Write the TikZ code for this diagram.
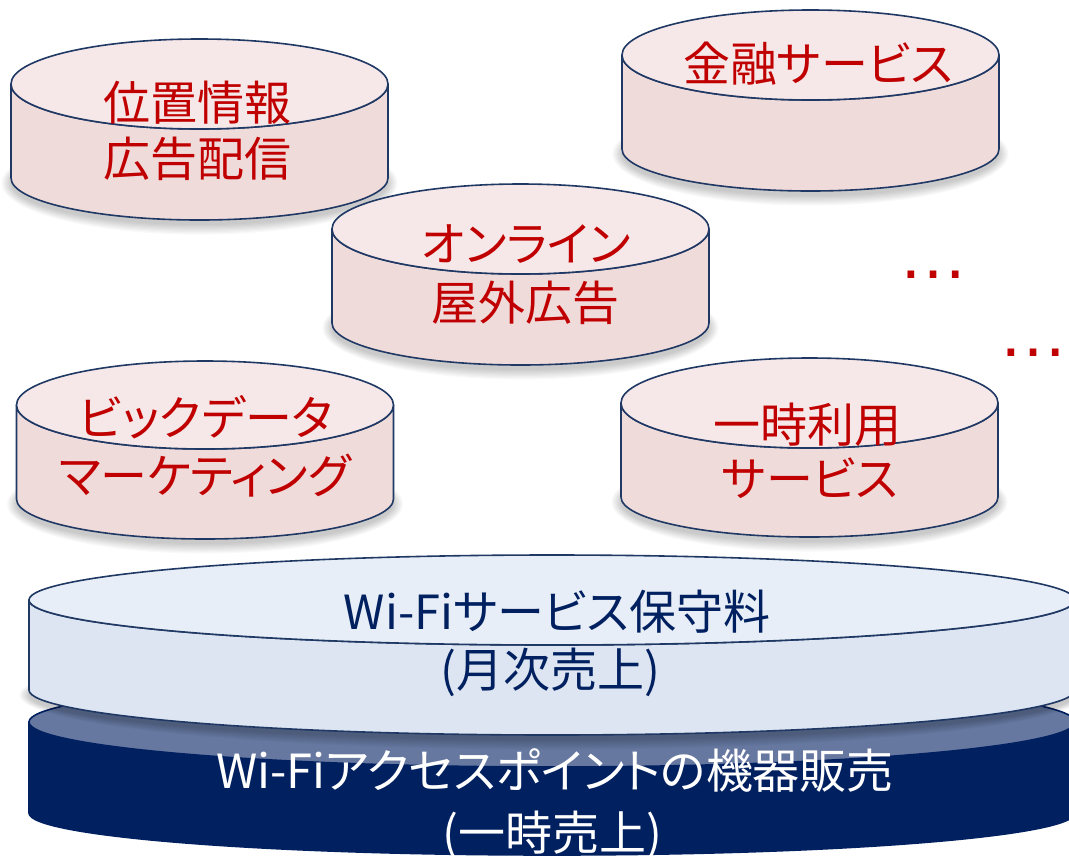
\documentclass[tikz,border=0pt]{standalone}
\usepackage{fontspec}
\setmainfont{Noto Sans CJK JP}[RawFeature=+palt]
\newfontfamily\dotfont{Liberation Sans}
\definecolor{navy}{HTML}{002060}
\definecolor{edge}{HTML}{1F3864}
\definecolor{redtext}{HTML}{C00000}
\definecolor{pinktop}{HTML}{F6E8E8}
\definecolor{pinkside}{HTML}{F0DBDB}
\definecolor{bluetop}{HTML}{E8EEF7}
\definecolor{blueside}{HTML}{DCE5F1}
\definecolor{band}{HTML}{6677A0}
\newcommand\drawcyl[9]{%
  \path[fill=#8, draw=#9, cylline] (#1-#3, -#2) -- (#1-#3, -#2-#5)
    arc[start angle=180, end angle=360, x radius=#3, y radius=#6]
    -- (#1+#3, -#2)
    arc[start angle=0, end angle=-180, x radius=#3, y radius=#4] -- cycle;
  \path[fill=#7, draw=#9, cylline] (#1,-#2) ellipse[x radius=#3, y radius=#4];
}
\newcommand\cylshadow[4]{%
  \foreach \k in {0,...,8}{
    \fill[black, opacity=0.025] (#1, -#2-5) ellipse[x radius=#3+1.2*\k, y radius=#4+1.2*\k];
  }
}
\begin{document}
\begin{tikzpicture}[x=1pt, y=1pt,
  cylline/.style={line width=1.6pt, line join=round},
  redtxt/.style={text=redtext, font=\fontsize{47}{56}\selectfont, inner sep=0pt, anchor=base},
  bluetxt/.style={text=navy, font=\fontsize{47}{56}\selectfont, inner sep=0pt, anchor=base},
  whitetxt/.style={text=white, font=\fontsize{47}{56}\selectfont, inner sep=0pt, anchor=base},
  dotstxt/.style={text=redtext, font=\dotfont\fontsize{70}{70}\selectfont, inner sep=0pt, anchor=base}]
\useasboundingbox (0,0) rectangle (1069,-855);
\clip (0,0) rectangle (1069,-855);
\fill[white] (0,0) rectangle (1069,-855);

% small cylinders
\cylshadow{199.5}{178}{188.5}{42}
\drawcyl{199.5}{84}{188.5}{45}{94}{42}{pinktop}{pinkside}{edge}
\cylshadow{810.5}{149}{188.5}{42}
\drawcyl{810.5}{55}{188.5}{45}{94}{42}{pinktop}{pinkside}{edge}
\cylshadow{520.5}{323}{188.5}{42}
\drawcyl{520.5}{229}{188.5}{45}{94}{42}{pinktop}{pinkside}{edge}
\cylshadow{205}{499}{188.5}{40}
\drawcyl{205}{405}{188.5}{44}{94}{40}{pinktop}{pinkside}{edge}
\cylshadow{809.5}{497}{188.5}{40}
\drawcyl{809.5}{403}{188.5}{45}{94}{40}{pinktop}{pinkside}{edge}

% large cylinders
\drawcyl{552}{722}{523}{45}{91}{42}{band}{navy}{navy}
\cylshadow{552}{690}{523}{45}
\drawcyl{552}{600}{523}{45}{90}{45}{bluetop}{blueside}{edge}

% texts
\node[redtxt] (a1) at (197,-120) {位置情報};
\node[redtxt] (a2) at (197,-176) {広告配信};
\node[redtxt] (b1) at (818,-81) {金融サービス};
\node[redtxt] (c1) at (526,-261) {オンライン};
\node[redtxt] (c2) at (525,-320) {屋外広告};
\node[redtxt] (d1) at (206,-435) {ビックデータ};
\node[redtxt] (d2) at (205,-493) {マーケティング};
\node[redtxt] (e1) at (807,-442) {一時利用};
\node[redtxt] (e2) at (810,-496) {サービス};

\node[bluetxt] (f1) at (557,-629) {Wi-Fiサービス保守料};
\node[bluetxt] (f2) at (550,-687) {(月次売上)};
\node[whitetxt] (g1) at (555,-788) {Wi-Fiアクセスポイントの機器販売};
\node[whitetxt] (g2) at (552,-850) {(一時売上)};

\node[dotstxt] (h1) at (933,-278) {…};
\node[dotstxt] (h2) at (1033,-356) {…};
\end{tikzpicture}
\end{document}
